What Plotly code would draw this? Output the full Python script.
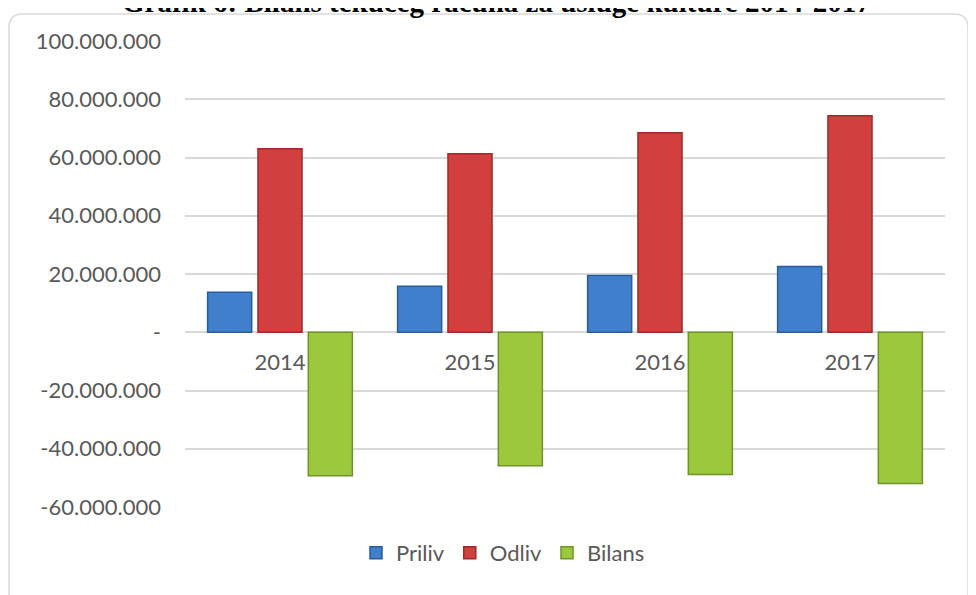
import plotly.graph_objects as go

years = ["2014", "2015", "2016", "2017"]
priliv = [13.7e6, 15.8e6, 19.5e6, 22.6e6]
odliv = [63.0e6, 61.3e6, 68.5e6, 74.3e6]
bilans = [-49.3e6, -45.8e6, -48.8e6, -51.9e6]

ytick_vals = [-60e6, -40e6, -20e6, 0, 20e6, 40e6, 60e6, 80e6, 100e6]
ytick_text = ["-60.000.000", "-40.000.000", "-20.000.000", "-", "20.000.000",
              "40.000.000", "60.000.000", "80.000.000", "100.000.000"]

title_text = "Grafik 6: Bilans tekućeg računa za usluge kulture 2014-2017"

W, H = 976, 595
OFF = 8  # page body margin
# plot area in figure pixels (page pixels minus body margin)
L, R, T, B = 185 - OFF, 945 - OFF, 41 - OFF, 507 - OFF


def px(x):
    """page x pixel -> paper fraction"""
    return (x - OFF - L) / (R - L)


def py(y):
    """page y pixel -> paper fraction"""
    return (B - (y - OFF)) / (B - T)


FONT = "Lato"
GRAY = "#595959"
FS = 22

fig = go.Figure()
fig.add_trace(go.Bar(name="Priliv", x=years, y=priliv,
                     marker=dict(color="#3f7fcc", line=dict(color="#2b5c9a", width=1.5))))
fig.add_trace(go.Bar(name="Odliv", x=years, y=odliv,
                     marker=dict(color="#d23f3f", line=dict(color="#9e2b2b", width=1.5))))
fig.add_trace(go.Bar(name="Bilans", x=years, y=bilans,
                     marker=dict(color="#9cc83e", line=dict(color="#6e932a", width=1.5))))

# frame with rounded top corners
x0, x1 = px(9), px(968)
y0, y1 = py(610), py(14)
rx, ry = 14 / (R - L), 14 / (B - T)
path = (f"M {x0},{y0} L {x0},{y1-ry} Q {x0},{y1} {x0+rx},{y1} "
        f"L {x1-rx},{y1} Q {x1},{y1} {x1},{y1-ry} L {x1},{y0}")
fig.add_shape(type="path", path=path, xref="paper", yref="paper",
              line=dict(color="#d9d9d9", width=1.5), layer="below")

fig.add_annotation(text="<b>" + title_text + "</b>", xref="paper", yref="paper",
                   x=px(496), y=py(2), xanchor="center", yanchor="middle",
                   showarrow=False,
                   font=dict(family="Liberation Serif", size=29, color="#000000"))

fig.update_layout(
    width=W, height=H,
    margin=dict(l=L, r=W - R, t=T, b=H - B, pad=0),
    paper_bgcolor="white", plot_bgcolor="white",
    barmode="group", bargap=0.205, bargroupgap=0.125,
    font=dict(family=FONT, size=FS, color=GRAY),
    showlegend=True,
    legend=dict(orientation="h", x=px(503), y=py(553), xanchor="center", yanchor="middle",
                font=dict(family=FONT, size=FS, color=GRAY), itemwidth=30,
                bgcolor="rgba(0,0,0,0)"),
    xaxis=dict(anchor="free", position=60 / 160,
               showline=False, showgrid=False, ticks="", ticklabelstandoff=15,
               tickfont=dict(family=FONT, size=FS, color=GRAY)),
    yaxis=dict(range=[-60e6, 100e6], tickvals=ytick_vals, ticktext=ytick_text,
               showgrid=True, gridcolor="#d9d9d9", gridwidth=1.5,
               zeroline=True, zerolinecolor="#d9d9d9", zerolinewidth=1.5,
               showline=False, ticks="", ticklabelstandoff=23,
               tickfont=dict(family=FONT, size=FS, color=GRAY)),
)

fig.write_html("out.html")
